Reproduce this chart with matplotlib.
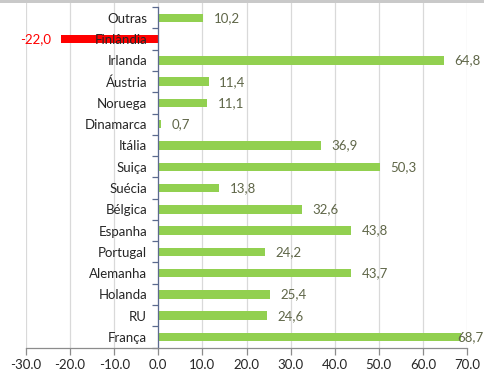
import matplotlib
matplotlib.use("Agg")
import matplotlib.pyplot as plt
from matplotlib.patches import Rectangle
import numpy as np

plt.rcParams['font.family'] = ['Lato', 'DejaVu Sans']

# Countries, listed from the top row to the bottom row
countries = ["Outras", "Finlândia", "Irlanda", "Áustria", "Noruega", "Dinamarca",
             "Itália", "Suiça", "Suécia", "Bélgica", "Espanha", "Portugal",
             "Alemanha", "Holanda", "RU", "França"]
values = [10.2, -22.0, 64.8, 11.4, 11.1, 0.7, 36.9, 50.3, 13.8, 32.6, 43.8,
          24.2, 43.7, 25.4, 24.6, 68.7]
x_ticks = [-30, -20, -10, 0, 10, 20, 30, 40, 50, 60, 70]

GREEN = "#92D050"
RED = "#FF0000"
LABEL = "#5f6648"
TEXT = "#262626"
FS = 9.5

fig = plt.figure(figsize=(4.85, 3.71), dpi=100)
fig.patch.set_facecolor("white")
# thin grey band along the top edge
fig.patches.append(Rectangle((0, 0.992), 1, 0.008, transform=fig.transFigure,
                             facecolor="#c9c9c9", edgecolor="none"))

ax = fig.add_axes([0.0536, 0.062, 0.9093, 0.93])
n = len(countries)
ypos = np.arange(n)[::-1]
colors = [RED if v < 0 else GREEN for v in values]

ax.barh(ypos, values, height=0.4, color=colors, zorder=1)

# vertical gridlines behind the bars
for t in x_ticks:
    ax.axvline(t, color="#d9d9d9", lw=0.9, zorder=0)

ax.set_xlim(-30, 70)
ax.set_ylim(-0.52, 15.70)

# value labels (kept inside the figure at the right edge)
for y, v in zip(ypos, values):
    s = f"{v:.1f}".replace(".", ",")
    if v < 0:
        ax.text(v - 2.3, y, s, ha="right", va="center", fontsize=FS,
                color=RED, zorder=3)
    else:
        ax.text(min(v + 2.4, 67.9), y, s, ha="left", va="center",
                fontsize=FS, color=LABEL, zorder=3)

# category axis sits at zero
ax.spines["left"].set_position(("data", 0))
ax.spines["left"].set_bounds(-0.5, 15.5)
ax.spines["left"].set_color("#5b6a8f")
ax.spines["left"].set_linewidth(0.9)
ax.spines["right"].set_visible(False)
ax.spines["top"].set_visible(False)
ax.spines["bottom"].set_color("#8c8c8c")
ax.spines["bottom"].set_linewidth(0.9)

ax.set_yticks(ypos)
ax.set_yticklabels(countries, fontsize=FS, color=TEXT)
ax.set_yticks(np.arange(-0.5, n, 1.0), minor=True)
ax.tick_params(axis="y", which="major", length=0, pad=8)
ax.tick_params(axis="y", which="minor", length=4, direction="out",
               color="#5b6a8f", width=0.9)

ax.set_xticks(x_ticks)
ax.set_xticklabels([f"{t:.1f}" for t in x_ticks], fontsize=FS, color=TEXT)
ax.tick_params(axis="x", length=5, direction="out", color="#8c8c8c",
               width=0.9, pad=3)

fig.savefig("out.png", dpi=100)
